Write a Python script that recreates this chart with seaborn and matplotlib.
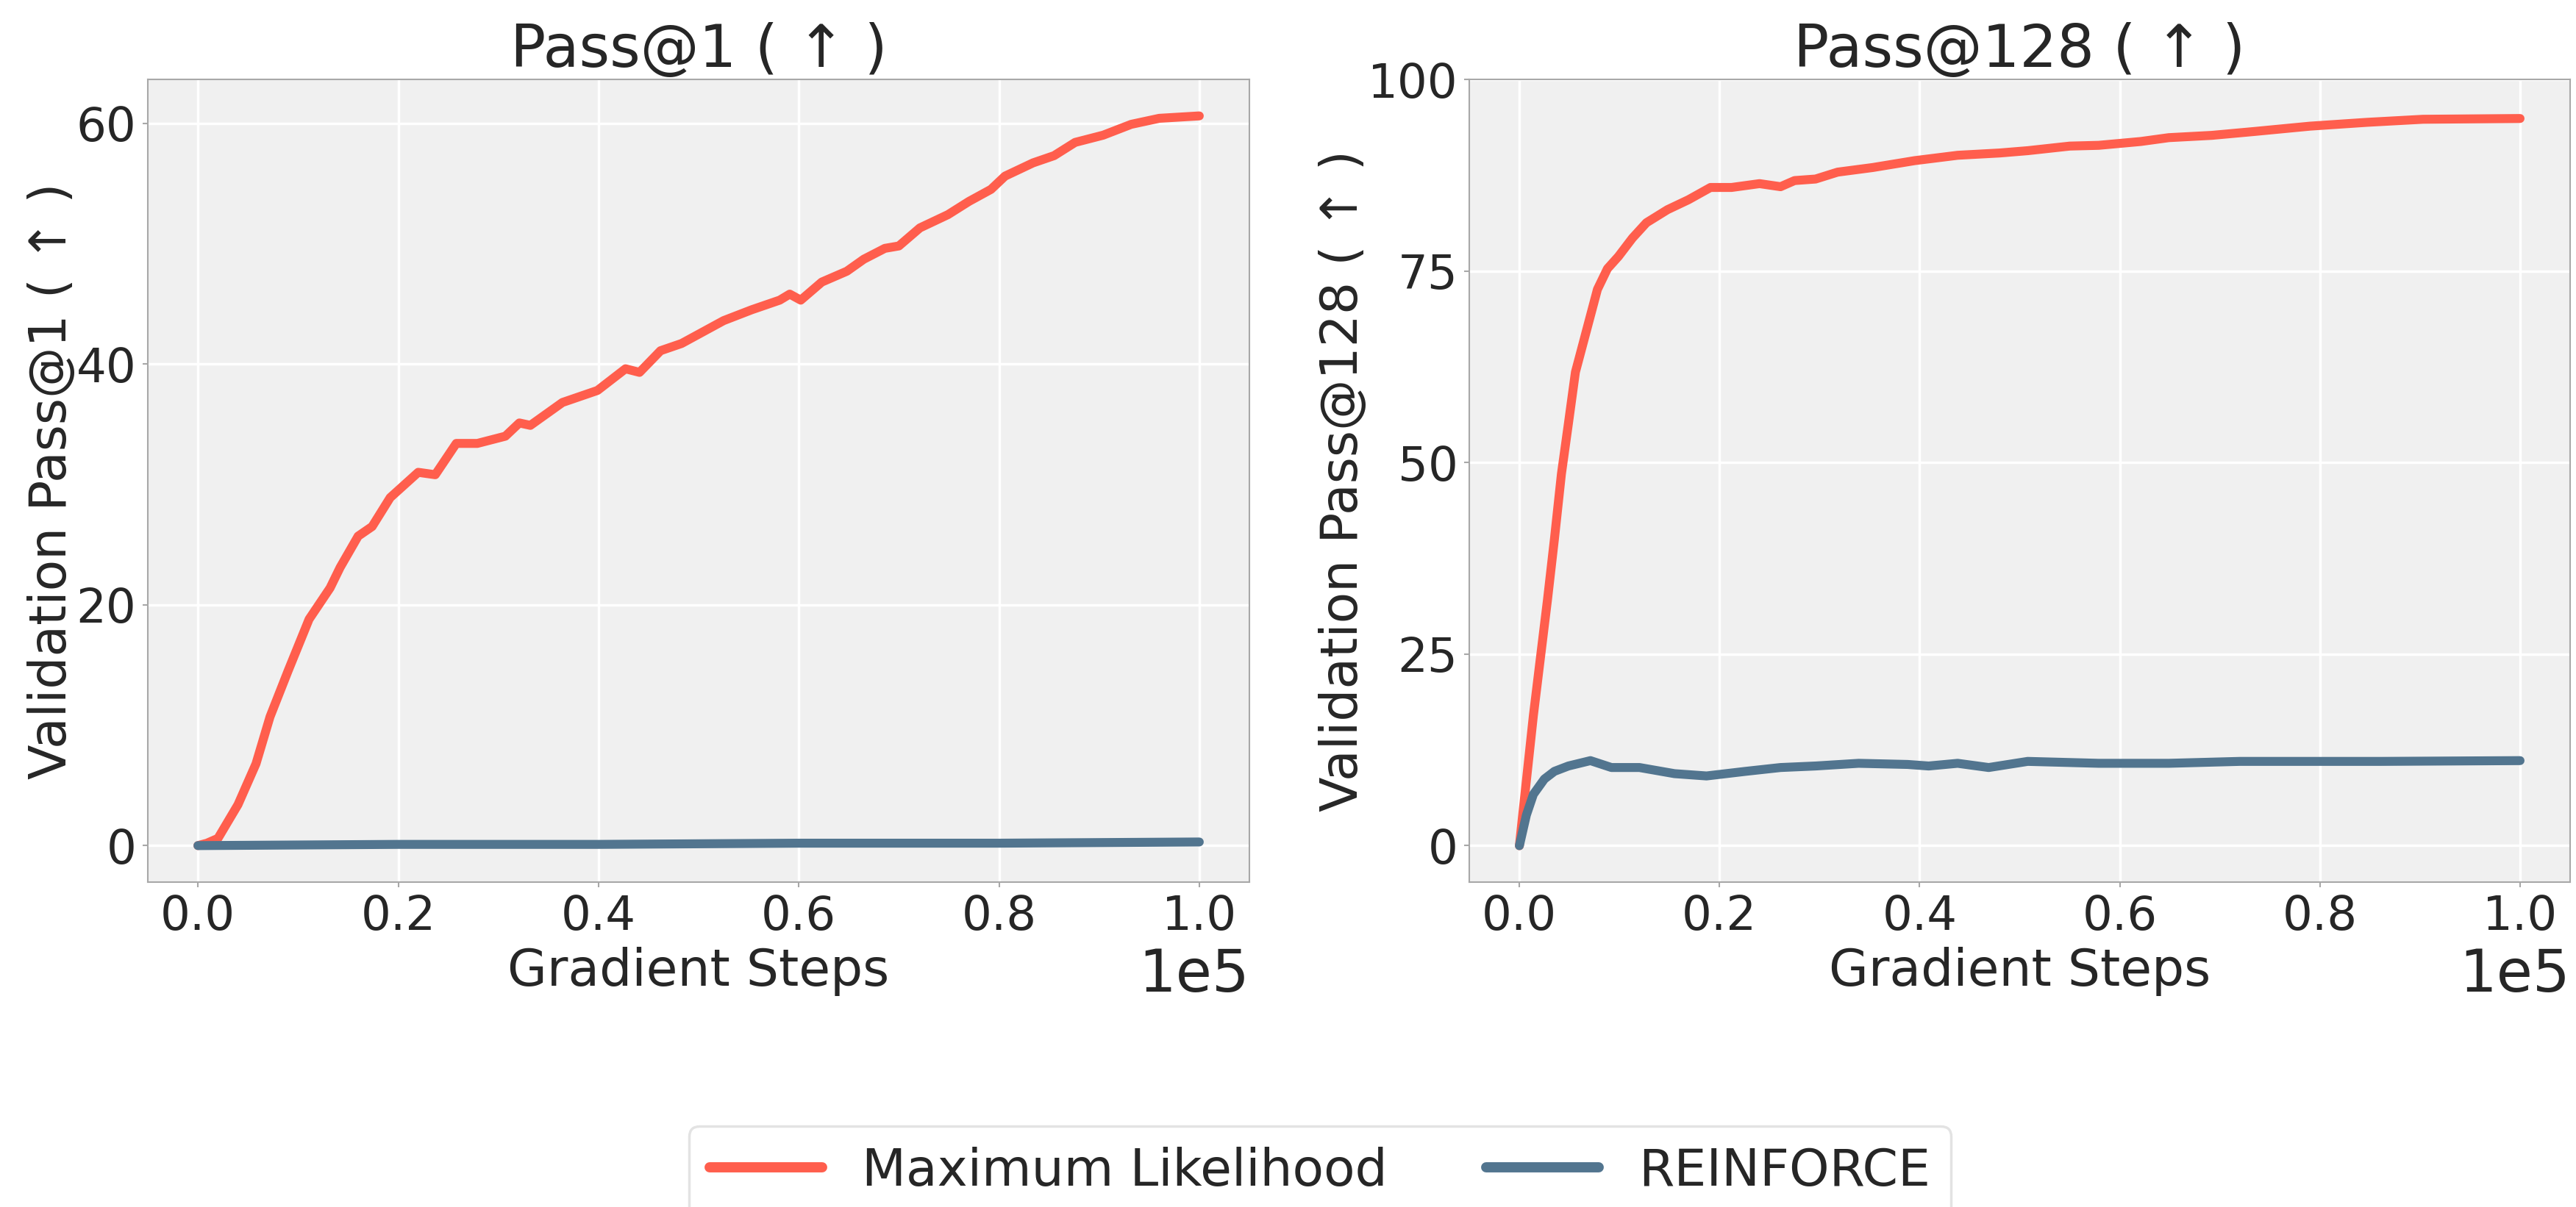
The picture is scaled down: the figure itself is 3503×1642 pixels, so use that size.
import matplotlib
matplotlib.use("Agg")
import matplotlib.pyplot as plt
import seaborn as sns
import pandas as pd

# --- data ---
methods = ["Maximum Likelihood", "REINFORCE"]
colors = ["#ff5e4d", "#52758f"]

p1_ml_steps = [0, 900, 2000, 4000, 5800, 7200, 9000, 11100, 13200, 14200,
               16000, 17400, 19200, 22000, 23700, 25800, 27900, 30700, 32100, 33200,
               36400, 39900, 42700, 44100, 46200, 48300, 52500, 55300, 58100, 59100,
               60200, 62300, 64800, 66500, 68600, 70000, 72100, 74900, 77000, 79200,
               80600, 83400, 85500, 87600, 90400, 93200, 96000, 100000]
p1_ml_vals = [0, 0.2, 0.6, 3.4, 6.8, 10.7, 14.5, 18.8, 21.4, 23.1,
              25.7, 26.5, 28.9, 31.0, 30.8, 33.4, 33.4, 34.0, 35.1, 34.9,
              36.8, 37.8, 39.6, 39.3, 41.1, 41.7, 43.6, 44.5, 45.3, 45.8,
              45.3, 46.8, 47.7, 48.7, 49.6, 49.8, 51.3, 52.4, 53.5, 54.5,
              55.6, 56.7, 57.3, 58.4, 59.0, 59.9, 60.4, 60.6]
p1_rf_steps = [0, 20000, 40000, 60000, 80000, 100000]
p1_rf_vals = [0.0, 0.1, 0.1, 0.2, 0.2, 0.3]

p128_ml_steps = [0, 700, 1400, 2100, 2800, 3500, 4200, 4900, 5600, 6700,
                 7800, 8800, 9900, 11300, 12700, 14800, 16900, 19100, 21200, 24000,
                 26100, 27500, 29600, 31800, 35300, 39500, 43800, 48000, 50800, 55000,
                 57900, 62100, 64900, 69200, 73400, 79000, 84700, 90300, 100000]
p128_ml_vals = [0, 8.5, 17.0, 24.5, 32.0, 40.0, 48.5, 55.1, 61.8, 67.2,
                72.6, 75.3, 76.9, 79.3, 81.3, 83.0, 84.3, 85.9, 85.9, 86.4,
                86.0, 86.8, 87.0, 87.9, 88.5, 89.4, 90.1, 90.4, 90.7, 91.3,
                91.4, 91.9, 92.4, 92.7, 93.2, 93.9, 94.4, 94.8, 94.9]
p128_rf_steps = [0, 700, 1400, 2500, 3500, 4900, 7100, 9200, 12000, 15500,
                 18700, 22600, 26100, 29600, 33900, 38800, 40900, 43800, 46900, 50800,
                 57900, 64900, 72000, 79000, 86100, 100000]
p128_rf_vals = [0, 4.0, 6.7, 8.7, 9.7, 10.4, 11.1, 10.2, 10.2, 9.4,
                9.1, 9.7, 10.2, 10.4, 10.75, 10.6, 10.4, 10.75, 10.2, 11.0,
                10.75, 10.75, 11.0, 11.0, 11.0, 11.1]

titles = ["Pass@1 ( \u2191 )", "Pass@128 ( \u2191 )"]
ylabels = ["Validation Pass@1 ( \u2191 )", "Validation Pass@128 ( \u2191 )"]


def frame(ml_x, ml_y, rf_x, rf_y):
    a = pd.DataFrame({"step": ml_x, "value": ml_y, "method": methods[0]})
    b = pd.DataFrame({"step": rf_x, "value": rf_y, "method": methods[1]})
    return pd.concat([a, b], ignore_index=True)


panels = [frame(p1_ml_steps, p1_ml_vals, p1_rf_steps, p1_rf_vals),
          frame(p128_ml_steps, p128_ml_vals, p128_rf_steps, p128_rf_vals)]

sns.set_theme(style="darkgrid", rc={
    "axes.facecolor": "#f0f0f0",
    "grid.color": "white",
    "grid.linewidth": 1.0,
    "axes.edgecolor": "#a8a8a8",
    "axes.linewidth": 0.6,
})
plt.rcParams["font.family"] = ["DejaVu Sans"]

fig = plt.figure(figsize=(14.012, 6.568), dpi=250)
ax1 = fig.add_axes([0.0574, 0.2692, 0.4276, 0.6650])
ax2 = fig.add_axes([0.5704, 0.2692, 0.4273, 0.6650])
axes = [ax1, ax2]

for i, ax in enumerate(axes):
    sns.lineplot(data=panels[i], x="step", y="value", hue="method",
                 hue_order=methods, palette=colors, linewidth=3.5,
                 estimator=None, sort=True, ax=ax, legend=(i == 0))
    ax.set_title(titles[i], fontsize=23, pad=5)
    ax.set_xlabel("Gradient Steps", fontsize=20, labelpad=3)
    ax.set_ylabel(ylabels[i], fontsize=20, labelpad=0)
    ax.ticklabel_format(axis="x", style="sci", scilimits=(0, 0))
    ax.xaxis.get_offset_text().set_fontsize(23)
    ax.tick_params(axis="both", labelsize=18.5, length=2, width=0.6,
                   color="#a8a8a8", pad=2.5, bottom=True, left=True)
    for s in ax.spines.values():
        s.set_visible(True)

ax1.set_yticks([0, 20, 40, 60])
ax2.set_yticks([0, 25, 50, 75, 100])
ax2.set_ylim(-4.75, 100)

handles, labels = ax1.get_legend_handles_labels()
ax1.get_legend().remove()
leg = fig.legend(handles, labels, loc="upper center", bbox_to_anchor=(0.5124, 0.067),
                 ncol=2, fontsize=20, frameon=True, fancybox=True,
                 handlelength=2.2, handletextpad=0.78, columnspacing=1.93,
                 borderpad=0.4, borderaxespad=0)
leg.get_frame().set_edgecolor("#dddddd")
leg.get_frame().set_facecolor("white")
for line in leg.get_lines():
    line.set_linewidth(4)

fig.savefig("out.png", dpi=250)
